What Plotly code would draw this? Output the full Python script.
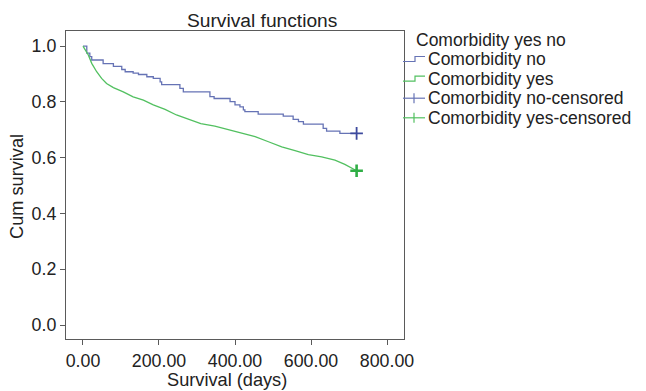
import plotly.graph_objects as go

# ---- data ----
no_time = [0, 10, 18, 23, 53, 80, 102, 111, 132, 146, 168, 185, 203, 207, 255, 264,
           334, 345, 387, 400, 413, 422, 426, 461, 527, 553, 567, 580, 632, 641, 676, 720]
no_surv = [1.0, 0.975, 0.962, 0.950, 0.937, 0.927, 0.916, 0.908, 0.903, 0.898, 0.890, 0.884,
           0.872, 0.862, 0.848, 0.836, 0.819, 0.812, 0.801, 0.789, 0.782, 0.771, 0.765, 0.756,
           0.749, 0.737, 0.729, 0.720, 0.705, 0.695, 0.687, 0.687]

yes_time = [0, 14, 23, 36, 49, 62, 80, 106, 132, 159, 185, 216, 246, 280, 310, 347, 382,
            418, 453, 488, 523, 558, 593, 628, 663, 689, 707, 720]
yes_surv = [1.0, 0.968, 0.938, 0.908, 0.884, 0.866, 0.851, 0.836, 0.818, 0.806, 0.789, 0.773,
            0.753, 0.737, 0.722, 0.713, 0.701, 0.687, 0.675, 0.657, 0.639, 0.625, 0.611, 0.603,
            0.591, 0.576, 0.561, 0.553]

cens_no_time = [720]
cens_no_surv = [0.687]
cens_yes_time = [720]
cens_yes_surv = [0.553]

x_ticks = [0, 200, 400, 600, 800]
y_ticks = [0.0, 0.2, 0.4, 0.6, 0.8, 1.0]

legend_title = "Comorbidity yes no"
legend_labels = ["Comorbidity no", "Comorbidity yes",
                 "Comorbidity no-censored", "Comorbidity yes-censored"]

# ---- styling ----
BLUE = "#6673b5"
GREEN = "#52c060"
BLUE_M = "#3d4a9e"
GREEN_M = "#2fae45"
FONT = "Liberation Sans, Arial, sans-serif"
FS_TICK = 17.8
FS_AXT = 18.2
FS_TITLE = 19.2
FS_LEG = 17.5
ROW0, ROW_STEP = 59, 19.6
W, H = 646, 391
L, R, T, B = 66, 404, 31, 339   # plot box in pixels

def px(xp):
    return (xp - L) / (R - L)

def py(yp):
    return (B - yp) / (B - T)

fig = go.Figure()
fig.add_trace(go.Scatter(x=no_time, y=no_surv, mode="lines", line=dict(color=BLUE, width=1.3, shape="hv"),
                         name=legend_labels[0], showlegend=False))
fig.add_trace(go.Scatter(x=yes_time, y=yes_surv, mode="lines", line=dict(color=GREEN, width=1.3),
                         name=legend_labels[1], showlegend=False))
fig.add_trace(go.Scatter(x=cens_no_time, y=cens_no_surv, mode="markers",
                         marker=dict(symbol="cross-thin", size=9, line=dict(color=BLUE_M, width=1.8)),
                         name=legend_labels[2], showlegend=False))
fig.add_trace(go.Scatter(x=cens_yes_time, y=cens_yes_surv, mode="markers",
                         marker=dict(symbol="cross-thin", size=9, line=dict(color=GREEN_M, width=2.6)),
                         name=legend_labels[3], showlegend=False))

axis_common = dict(showline=True, mirror=True, linecolor="#5a5a5a", linewidth=1.3,
                   ticks="outside", ticklen=5, tickcolor="#5a5a5a", tickwidth=1,
                   showgrid=False, zeroline=False,
                   tickfont=dict(family=FONT, size=FS_TICK, color="#222"))

fig.update_xaxes(range=[-44.7, 844.7], tickvals=x_ticks, tickformat=".2f", **axis_common)
fig.update_yaxes(range=[-0.05, 1.054], tickvals=y_ticks, tickformat=".1f", **axis_common)

item_y = [ROW0 + i * ROW_STEP for i in range(len(legend_labels))]

annotations = [
    dict(text="Survival functions", xref="paper", yref="paper", x=px(262), y=py(20.5),
         xanchor="center", yanchor="middle", showarrow=False,
         font=dict(family=FONT, size=FS_TITLE, color="#222")),
    dict(text="Survival (days)", xref="paper", yref="paper", x=px(227), y=py(379.5),
         xanchor="center", yanchor="middle", showarrow=False,
         font=dict(family=FONT, size=FS_AXT, color="#222")),
    dict(text="Cum survival", xref="paper", yref="paper", x=px(17), y=py(187),
         xanchor="center", yanchor="middle", showarrow=False, textangle=-90,
         font=dict(family=FONT, size=FS_AXT, color="#222")),
    dict(text=legend_title, xref="paper", yref="paper", x=px(414), y=py(39.5),
         xanchor="left", yanchor="middle", showarrow=False,
         font=dict(family=FONT, size=FS_LEG, color="#222")),
]
for lab, yy in zip(legend_labels, item_y):
    annotations.append(dict(text=lab, xref="paper", yref="paper", x=px(426), y=py(yy),
                            xanchor="left", yanchor="middle", showarrow=False,
                            font=dict(family=FONT, size=FS_LEG, color="#222")))

shapes = []
# step glyphs
for yy, col in [(item_y[0], BLUE), (item_y[1], GREEN)]:
    path = "M {a},{b} L {c},{b} L {c},{d} L {e},{d}".format(
        a=px(403), b=py(yy + 2.5), c=px(415), d=py(yy - 2.5), e=px(425))
    shapes.append(dict(type="path", path=path, xref="paper", yref="paper",
                       line=dict(color=col, width=1.2)))
# censored glyphs
for yy, col in [(item_y[2], BLUE), (item_y[3], GREEN)]:
    shapes.append(dict(type="line", xref="paper", yref="paper", x0=px(403), x1=px(425),
                       y0=py(yy), y1=py(yy), line=dict(color=col, width=1.2)))
    shapes.append(dict(type="line", xref="paper", yref="paper", x0=px(414), x1=px(414),
                       y0=py(yy - 5), y1=py(yy + 5), line=dict(color=col, width=1.2)))

fig.update_layout(width=W, height=H, margin=dict(l=L, r=W - R, t=T, b=H - B),
                  paper_bgcolor="white", plot_bgcolor="white",
                  annotations=annotations, shapes=shapes, showlegend=False,
                  font=dict(family=FONT, size=FS_TICK, color="#222"))

fig.write_html("out.html")
